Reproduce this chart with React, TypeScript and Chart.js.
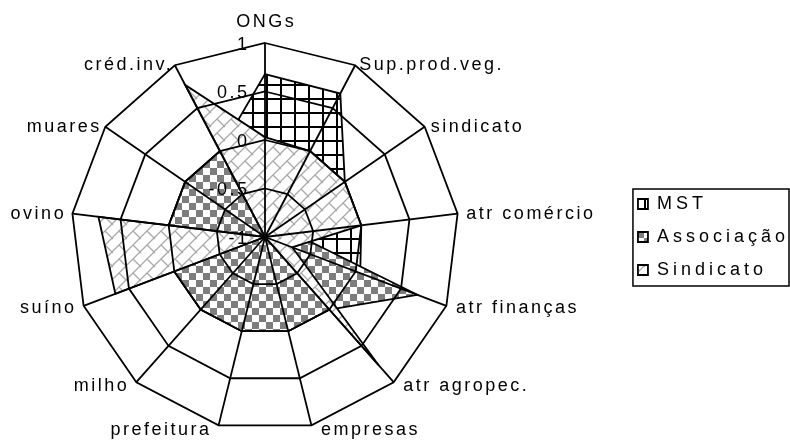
import React, { useEffect, useRef } from "react";
import { Chart, registerables } from "chart.js";

Chart.register(...registerables);

// ---- data ----
const categories = [
  "ONGs",
  "Sup.prod.veg.",
  "sindicato",
  "atr comércio",
  "atr finanças",
  "atr agropec.",
  "empresas",
  "prefeitura",
  "milho",
  "suíno",
  "ovino",
  "muares",
  "créd.inv.",
];
const tickValues = [-1, -0.5, 0, 0.5, 1];
const tickLabels = ["-1", "-0.5", "0", "0.5", "1"];
const seriesNames = ["MST", "Associação", "Sindicato"];
const mstValues = [0.68, 0.67, 0, 0, 0.05, 0, 0, 0, 0, 0, 0, 0, 0];
const associacaoValues = [0, 0, 0, -0.7, 0.68, 0, 0, 0, 0, 0, 0, 0, 0];
const sindicatoValues = [0.03, 0, 0, 0, -0.7, 0.77, -1, -1, -1, 0.65, 0.73, -1, 0.77];

const FONT = '"Liberation Sans", Arial, sans-serif';
const LABEL_SPACING = 2.5;
const LEGEND_SPACING = 4;
const PLOT_LEFT_GAP = 71; // space left of the radar web

function makeTile(size: number, draw: (g: CanvasRenderingContext2D) => void) {
  const c = document.createElement("canvas");
  c.width = size;
  c.height = size;
  const g = c.getContext("2d")!;
  g.fillStyle = "#ffffff";
  g.fillRect(0, 0, size, size);
  draw(g);
  return c;
}

function makePatterns(ctx: CanvasRenderingContext2D) {
  const grid = makeTile(14, (g) => {
    g.fillStyle = "#000000";
    g.fillRect(0, 0, 14, 2);
    g.fillRect(0, 0, 2, 14);
  });
  const checker = makeTile(14, (g) => {
    g.fillStyle = "#7d7d7d";
    g.fillRect(0, 0, 7, 7);
    g.fillRect(7, 7, 7, 7);
  });
  const T = 14;
  const brick = makeTile(T, (g) => {
    g.strokeStyle = "#a9a9a9";
    g.lineWidth = 1.3;
    g.beginPath();
    g.moveTo(-2, T + 2);
    g.lineTo(T + 2, -2);
    g.moveTo(-2, 2);
    g.lineTo(2, -2);
    g.moveTo(T - 2, T + 2);
    g.lineTo(T + 2, T - 2);
    g.moveTo(T / 2, T / 2);
    g.lineTo(T + 1, T + 1);
    g.moveTo(-T / 2, T / 2);
    g.lineTo(1, T + 1);
    g.moveTo(T / 2, -T / 2);
    g.lineTo(T + 1, 1);
    g.moveTo(-T / 2, -T / 2);
    g.lineTo(1, 1);
    g.stroke();
  });
  return {
    grid: ctx.createPattern(grid, "repeat")!,
    checker: ctx.createPattern(checker, "repeat")!,
    brick: ctx.createPattern(brick, "repeat")!,
  };
}

export default function App() {
  const ref = useRef<HTMLCanvasElement>(null);

  useEffect(() => {
    const canvas = ref.current!;
    const ctx0 = canvas.getContext("2d")!;
    const pats = makePatterns(ctx0);

    const textPlugin = {
      id: "radarText",
      beforeUpdate(chart: any) {
        chart.ctx.letterSpacing = LEGEND_SPACING + "px";
      },
      beforeDraw(chart: any) {
        chart.ctx.letterSpacing = LEGEND_SPACING + "px";
      },
      afterDraw(chart: any) {
        const ctx: CanvasRenderingContext2D = chart.ctx;
        const s: any = chart.scales.r;
        ctx.save();
        (ctx as any).letterSpacing = LABEL_SPACING + "px";
        ctx.fillStyle = "#000000";
        ctx.font = "18px " + FONT;
        const R = s.drawingArea;
        categories.forEach((label, i) => {
          const p = s.getPointPosition(i, R);
          const a = s.getIndexAngle(i);
          const deg = (a * 180) / Math.PI;
          const cos = Math.cos(a);
          const gap = 9.5 - 6 * Math.max(0, cos);
          const dy = 5 * Math.max(0, -cos);
          if (deg < 1 || deg > 359) {
            ctx.textAlign = "center";
            ctx.textBaseline = "alphabetic";
            ctx.fillText(label, p.x + LABEL_SPACING / 2, p.y - 16);
          } else if (deg < 180) {
            ctx.textAlign = "left";
            ctx.textBaseline = "middle";
            ctx.fillText(label, p.x + gap, p.y + dy);
          } else {
            ctx.textAlign = "right";
            ctx.textBaseline = "middle";
            ctx.fillText(label, p.x - gap + LABEL_SPACING, p.y + dy);
          }
        });
        tickValues.forEach((v, k) => {
          const p = s.getPointPositionForValue(0, v);
          ctx.textAlign = "right";
          ctx.textBaseline = "middle";
          ctx.fillText(tickLabels[k], p.x - 18 + LABEL_SPACING, p.y + 2);
        });
        const lg: any = chart.legend;
        if (lg && lg.legendHitBoxes && lg.legendHitBoxes.length) {
          const hb = lg.legendHitBoxes;
          const first = hb[0];
          const last = hb[hb.length - 1];
          const x0 = first.left - 5;
          const y0 = first.top - 6;
          const y1 = last.top + last.height + 7;
          ctx.strokeStyle = "#000000";
          ctx.lineWidth = 1.5;
          ctx.strokeRect(x0, y0, chart.width - 1 - x0, y1 - y0);
        }
        ctx.restore();
      },
    };

    const common = {
      borderColor: "#000000",
      borderWidth: 1.8,
      fill: "start",
      pointRadius: 0,
      pointHoverRadius: 0,
    };

    const chart = new Chart(canvas, {
      type: "radar",
      data: {
        labels: categories,
        datasets: [
          { ...common, label: seriesNames[2], data: sindicatoValues, backgroundColor: pats.brick },
          { ...common, label: seriesNames[1], data: associacaoValues, backgroundColor: pats.checker },
          { ...common, label: seriesNames[0], data: mstValues, backgroundColor: pats.grid },
        ],
      } as any,
      options: {
        responsive: false,
        animation: false,
        events: [],
        layout: { padding: { left: 0, right: -9, top: 43, bottom: 14 } },
        plugins: {
          legend: {
            position: "right",
            reverse: true,
            labels: {
              boxWidth: 10,
              boxHeight: 10,
              padding: 15,
              color: "#000000",
              font: { family: FONT, size: 18 },
            },
          },
          tooltip: { enabled: false },
        },
        scales: {
          r: {
            min: -1,
            max: 1,
            ticks: { display: false, stepSize: 0.5 },
            pointLabels: { display: false },
            grid: { color: "#000000", lineWidth: 1.8, z: 1 },
            angleLines: { color: "#000000", lineWidth: 1.8 },
            afterFit(scale: any) {
              scale.xCenter = Math.floor(scale.left + PLOT_LEFT_GAP + scale.drawingArea);
            },
          },
        },
        elements: { line: { tension: 0 } },
      } as any,
      plugins: [textPlugin],
    });

    return () => chart.destroy();
  }, []);

  return (
    <div style={{ position: "absolute", left: 0, top: 0, width: 790, height: 445, background: "#ffffff" }}>
      <canvas ref={ref} width={790} height={445} style={{ display: "block" }} />
    </div>
  );
}
